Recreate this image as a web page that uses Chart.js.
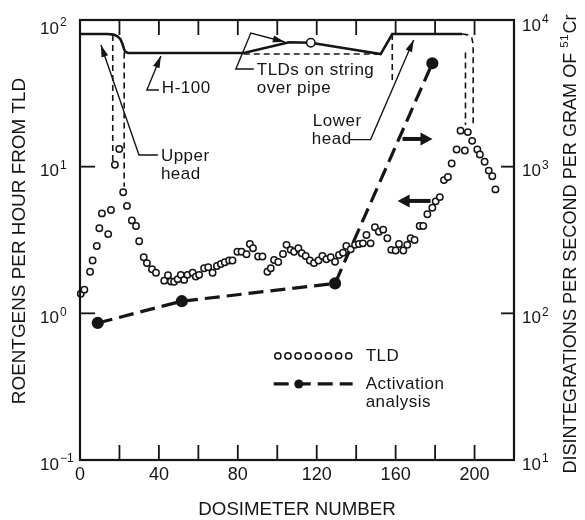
<!DOCTYPE html>
<html>
<head>
<meta charset="utf-8">
<script src="https://cdn.jsdelivr.net/npm/chart.js@4.4.1/dist/chart.umd.min.js"></script>
<style>
  body { margin: 0; background: #fff; }
</style>
</head>
<body>
<canvas id="myChart" width="585" height="520"></canvas>
<script>
// TLD readings, roentgens per hour (left axis)
const tldDosimeter = [0.4, 2.2, 5.1, 6.4, 8.5, 9.8, 11.1, 14.3, 15.7, 17.7, 19.9, 21.9, 23.8, 26.3, 28.4,
  30.0, 32.3, 33.9, 36.5, 38.5, 42.7, 44.6, 46.1, 47.7, 49.5, 51.1, 52.8, 54.5, 57.1, 58.7,
  60.4, 62.9, 65.0, 67.2, 69.4, 71.4, 73.4, 75.6, 77.3, 79.8, 81.9, 84.4, 86.1, 87.7, 90.3,
  92.5, 95.0, 96.7, 98.4, 100.5, 102.9, 104.7, 106.8, 108.5, 110.7, 112.4, 114.4, 116.5, 118.6, 120.9,
  122.9, 124.9, 127.1, 129.3, 131.3, 133.3, 135.0, 137.2, 139.4, 141.4, 143.4, 145.2, 147.3, 149.5, 151.5,
  153.7, 155.8, 157.8, 160.0, 161.7, 163.9, 165.9, 167.6, 169.6, 172.2, 174.0, 176.1, 178.6, 180.3, 182.4,
  184.5, 186.5, 188.4, 190.9, 192.9, 195.1, 196.6, 198.8, 201.4, 202.7, 205.1, 207.2, 209.0, 210.6];
const tldRate = [1.36, 1.45, 1.92, 2.29, 2.88, 3.8, 4.8, 3.47, 5.07, 10.3, 13.2, 6.7, 5.4, 4.3, 3.94,
  3.1, 2.41, 2.2, 2.0, 1.89, 1.67, 1.82, 1.65, 1.64, 1.71, 1.83, 1.69, 1.83, 1.89, 1.78,
  1.83, 2.03, 2.06, 1.89, 2.1, 2.17, 2.23, 2.29, 2.29, 2.63, 2.63, 2.53, 2.97, 2.78, 2.44,
  2.44, 1.92, 2.03, 2.31, 2.24, 2.54, 2.93, 2.71, 2.63, 2.78, 2.57, 2.46, 2.29, 2.2, 2.29,
  2.46, 2.34, 2.41, 2.25, 2.5, 2.59, 2.88, 2.73, 2.93, 2.97, 3.0, 3.42, 3.0, 3.86, 3.6,
  3.72, 3.25, 2.71, 2.68, 2.97, 2.68, 2.93, 3.25, 3.16, 3.94, 3.94, 4.74, 5.25, 5.8, 6.2,
  8.1, 8.5, 10.5, 13.1, 17.6, 12.9, 17.2, 15.0, 13.1, 12.1, 10.8, 9.4, 8.6, 7.0];

// activation analysis, disintegrations per second per gram (right axis)
const actDosimeter = [9.0, 51.6, 129.3, 178.6];
const actRate = [86, 121, 160, 5070];

// H-100 outline (solid) and the TLD string marker on it
const h100Dosimeter = [0, 14, 17, 19, 20.5, 21.5, 22.2, 23, 24.5, 83, 106, 117, 152.4, 158.3, 193.8];
const h100Rate = [80.3, 80.3, 79.5, 77.5, 74, 69, 64, 60.5, 59.5, 59.5, 70.5, 70, 58.6, 80.3, 80.3];
const markDosimeter = [117];
const markRate = [70];

// dashed guide lines
const stringDosimeter = [83, 152.4];
const stringRate = [58.6, 58.6];
const upperDashA = { x: [16.6, 16.6], y: [79, 10.6] };
const upperDashB = { x: [22.4, 22.4], y: [60, 7.3] };
const pipeDash = { x: [158.3, 158.3], y: [80.3, 38] };
const lowerDashA = { x: [193.8, 196.6, 198.6, 199.3, 199.3], y: [80.3, 79.2, 75.5, 68, 19.2] };
const lowerDashB = { x: [195.4, 195.4], y: [60, 19.2] };

// axes
const xTickMarks = [20, 40, 60, 80, 100, 120, 140, 160, 180, 200];
const xTickLabels = [0, 40, 80, 120, 160, 200];
const yTicks = [0.1, 1, 10, 100];
const yTickExp = ['\u22121', '0', '1', '2'];
const y2Ticks = [10, 100, 1000, 10000];
const y2TickExp = ['1', '2', '3', '4'];

const FONT = '"Liberation Sans", Arial, sans-serif';
const INK = '#151515';

function pts(xs, ys) {
  return xs.map((x, i) => ({ x: x, y: ys[i] }));
}

function guide(xs, ys) {
  return {
    data: pts(xs, ys), yAxisID: 'y', showLine: true, borderColor: INK,
    borderWidth: 1.6, borderDash: [6, 4], pointRadius: 0, fill: false
  };
}

// annotation layout, in data units of x and the left axis
const leaders = [
  [[39.5, 12.0], [29.9, 12.0], [10.6, 67.5]],
  [[40, 33.3], [33.9, 33.3], [41, 56.9]],
  [[88.1, 46.3], [79, 46.3], [86.6, 81.5], [103.8, 70.8]],
  [[136.8, 15.3], [147.3, 15.3], [169.1, 73.1]]
];
const noteText = [
  ['Upper', 41, 11.8], ['head', 41, 8.8], ['H-100', 41.5, 34.4],
  ['TLDs on string', 89.6, 45.6], ['over pipe', 89.6, 34.4],
  ['Lower', 118, 20.5], ['head', 117.5, 15.4]
];
const blockArrows = [
  [[163.5, 15.45], [178.7, 15.45]],
  [[177.7, 5.84], [161, 5.84]]
];

function seg(ctx, x0, y0, x1, y1) {
  ctx.beginPath();
  ctx.moveTo(x0, y0);
  ctx.lineTo(x1, y1);
  ctx.stroke();
}

function head(ctx, x0, y0, x1, y1, len, half) {
  const a = Math.atan2(y1 - y0, x1 - x0);
  const c = Math.cos(a), s = Math.sin(a);
  ctx.beginPath();
  ctx.moveTo(x1, y1);
  ctx.lineTo(x1 - len * c + half * s, y1 - len * s - half * c);
  ctx.lineTo(x1 - len * c - half * s, y1 - len * s + half * c);
  ctx.closePath();
  ctx.fill();
}

function pow10(ctx, exp, x, y) {
  ctx.font = '17px ' + FONT;
  ctx.textAlign = 'left';
  ctx.textBaseline = 'middle';
  ctx.fillText('10', x, y);
  const w = ctx.measureText('10').width;
  ctx.font = '12px ' + FONT;
  ctx.fillText(exp, x + w + 1, y - 6);
}

const paperPlugin = {
  id: 'paper',
  afterDraw(chart) {
    const ctx = chart.ctx, a = chart.chartArea;
    const X = v => chart.scales.x.getPixelForValue(v);
    const Y = v => chart.scales.y.getPixelForValue(v);
    const Y2 = v => chart.scales.y2.getPixelForValue(v);
    ctx.save();
    ctx.strokeStyle = INK;
    ctx.fillStyle = INK;

    // frame + inward ticks
    ctx.lineWidth = 2.2;
    ctx.strokeRect(a.left, a.top, a.right - a.left, a.bottom - a.top);
    ctx.lineWidth = 1.8;
    xTickMarks.forEach(v => {
      seg(ctx, X(v), a.bottom, X(v), a.bottom - 15);
      seg(ctx, X(v), a.top, X(v), a.top + 15);
    });
    yTicks.forEach(v => seg(ctx, a.left, Y(v), a.left + 15, Y(v)));
    y2Ticks.forEach(v => seg(ctx, a.right, Y2(v), a.right - 13, Y2(v)));

    // tick labels
    ctx.font = '18px ' + FONT;
    ctx.textAlign = 'center';
    ctx.textBaseline = 'middle';
    xTickLabels.forEach(v => ctx.fillText(String(v), X(v), a.bottom + 15));
    yTicks.forEach((v, i) => pow10(ctx, yTickExp[i], 40, Math.max(Y(v) + 5, a.top + 9)));
    y2Ticks.forEach((v, i) => pow10(ctx, y2TickExp[i], 522, Math.max(Y2(v) + 5, a.top + 6)));

    // axis titles
    const fit = (txt, width) => {
      ctx.font = '100px ' + FONT;
      return 100 * width / ctx.measureText(txt).width;
    };
    let t = 'DOSIMETER NUMBER';
    ctx.font = fit(t, 197).toFixed(1) + 'px ' + FONT;
    ctx.textAlign = 'center';
    ctx.fillText(t, (a.left + a.right) / 2, 510);

    t = 'ROENTGENS PER HOUR FROM TLD';
    ctx.save();
    ctx.translate(20, 241);
    ctx.rotate(-Math.PI / 2);
    ctx.font = fit(t, 327).toFixed(1) + 'px ' + FONT;
    ctx.fillText(t, 0, 0);
    ctx.restore();

    t = 'DISINTEGRATIONS PER SECOND PER GRAM OF ';
    ctx.save();
    ctx.translate(571, 244);
    ctx.rotate(-Math.PI / 2);
    const fs = fit(t + '51Cr', 466);
    ctx.font = fs.toFixed(1) + 'px ' + FONT;
    const wMain = ctx.measureText(t).width, wCr = ctx.measureText('Cr').width;
    ctx.font = (fs * 0.65).toFixed(1) + 'px ' + FONT;
    const wSup = ctx.measureText('51').width;
    let x0 = -(wMain + wSup + wCr + 1) / 2;
    ctx.textAlign = 'left';
    ctx.font = fs.toFixed(1) + 'px ' + FONT;
    ctx.fillText(t, x0, 0);
    ctx.font = (fs * 0.65).toFixed(1) + 'px ' + FONT;
    ctx.fillText('51', x0 + wMain, -6);
    ctx.font = fs.toFixed(1) + 'px ' + FONT;
    ctx.fillText('Cr', x0 + wMain + wSup + 1, 0);
    ctx.restore();

    // leaders with arrowheads
    ctx.lineWidth = 1.4;
    leaders.forEach(p => {
      ctx.beginPath();
      p.forEach((q, i) => i ? ctx.lineTo(X(q[0]), Y(q[1])) : ctx.moveTo(X(q[0]), Y(q[1])));
      ctx.stroke();
      const n = p.length;
      head(ctx, X(p[n - 2][0]), Y(p[n - 2][1]), X(p[n - 1][0]), Y(p[n - 1][1]), 12, 3.5);
    });

    // bold arrows pointing to each axis
    ctx.lineWidth = 4;
    blockArrows.forEach(p => {
      const xa = X(p[0][0]), xb = X(p[1][0]), yy = Y(p[0][1]);
      const dir = Math.sign(xb - xa);
      seg(ctx, xa, yy, xb - dir * 8, yy);
      head(ctx, xa, yy, xb, yy, 12, 6.5);
    });

    // note text
    ctx.font = '17px ' + FONT;
    ctx.letterSpacing = '0.5px';
    ctx.textAlign = 'left';
    ctx.textBaseline = 'middle';
    noteText.forEach(n => ctx.fillText(n[0], X(n[1]), Y(n[2])));

    // legend
    const rowTLD = 0.512, rowAct = 0.33;
    ctx.lineWidth = 1.5;
    for (let i = 0; i < 8; i++) {
      const cx = X(100.3 + i * 5.13);
      ctx.beginPath();
      ctx.arc(cx, Y(rowTLD), 3.1, 0, Math.PI * 2);
      ctx.fillStyle = '#fff';
      ctx.fill();
      ctx.stroke();
    }
    ctx.fillStyle = INK;
    ctx.fillText('TLD', X(144.8), Y(rowTLD));
    ctx.lineWidth = 3.2;
    ctx.setLineDash([15, 7]);
    seg(ctx, X(98.2), Y(rowAct), X(138.2), Y(rowAct));
    ctx.setLineDash([]);
    ctx.beginPath();
    ctx.arc(X(110.9), Y(rowAct), 4.5, 0, Math.PI * 2);
    ctx.fill();
    ctx.fillText('Activation', X(144.8), Y(rowAct));
    ctx.fillText('analysis', X(144.8), Y(0.249));
    ctx.restore();
  }
};

new Chart(document.getElementById('myChart'), {
  type: 'scatter',
  data: {
    datasets: [
      {
        data: pts(tldDosimeter, tldRate), yAxisID: 'y', showLine: false, clip: 8,
        pointRadius: 3.2, pointBorderWidth: 1.5, pointBorderColor: INK, pointBackgroundColor: '#fff'
      },
      {
        data: pts(markDosimeter, markRate), yAxisID: 'y', showLine: false,
        pointRadius: 4.2, pointBorderWidth: 1.6, pointBorderColor: INK, pointBackgroundColor: '#fff'
      },
      {
        data: pts(actDosimeter, actRate), yAxisID: 'y2', showLine: true, borderColor: INK,
        borderWidth: 3.2, borderDash: [15, 7], pointRadius: 4.5,
        pointBackgroundColor: INK, pointBorderColor: INK
      },
      {
        data: pts(h100Dosimeter, h100Rate), yAxisID: 'y', showLine: true, borderColor: INK,
        borderWidth: 2.6, pointRadius: 0, clip: 4
      },
      guide(stringDosimeter, stringRate),
      guide(upperDashA.x, upperDashA.y),
      guide(upperDashB.x, upperDashB.y),
      guide(pipeDash.x, pipeDash.y),
      guide(lowerDashA.x, lowerDashA.y),
      guide(lowerDashB.x, lowerDashB.y)
    ]
  },
  options: {
    responsive: false,
    animation: false,
    events: [],
    layout: { padding: { top: 20 } },
    plugins: { legend: { display: false }, tooltip: { enabled: false } },
    scales: {
      x: {
        type: 'linear', min: 0, max: 220,
        ticks: { display: false }, grid: { display: false }, border: { display: false },
        afterFit: s => { s.height = 60; }
      },
      y: {
        type: 'logarithmic', position: 'left', min: 0.1, max: 100,
        ticks: { display: false }, grid: { display: false }, border: { display: false },
        afterFit: s => { s.width = 80; }
      },
      y2: {
        type: 'logarithmic', position: 'right', min: 10, max: 10000,
        ticks: { display: false }, grid: { display: false }, border: { display: false },
        afterFit: s => { s.width = 71; }
      }
    }
  },
  plugins: [paperPlugin]
});
</script>
</body>
</html>
